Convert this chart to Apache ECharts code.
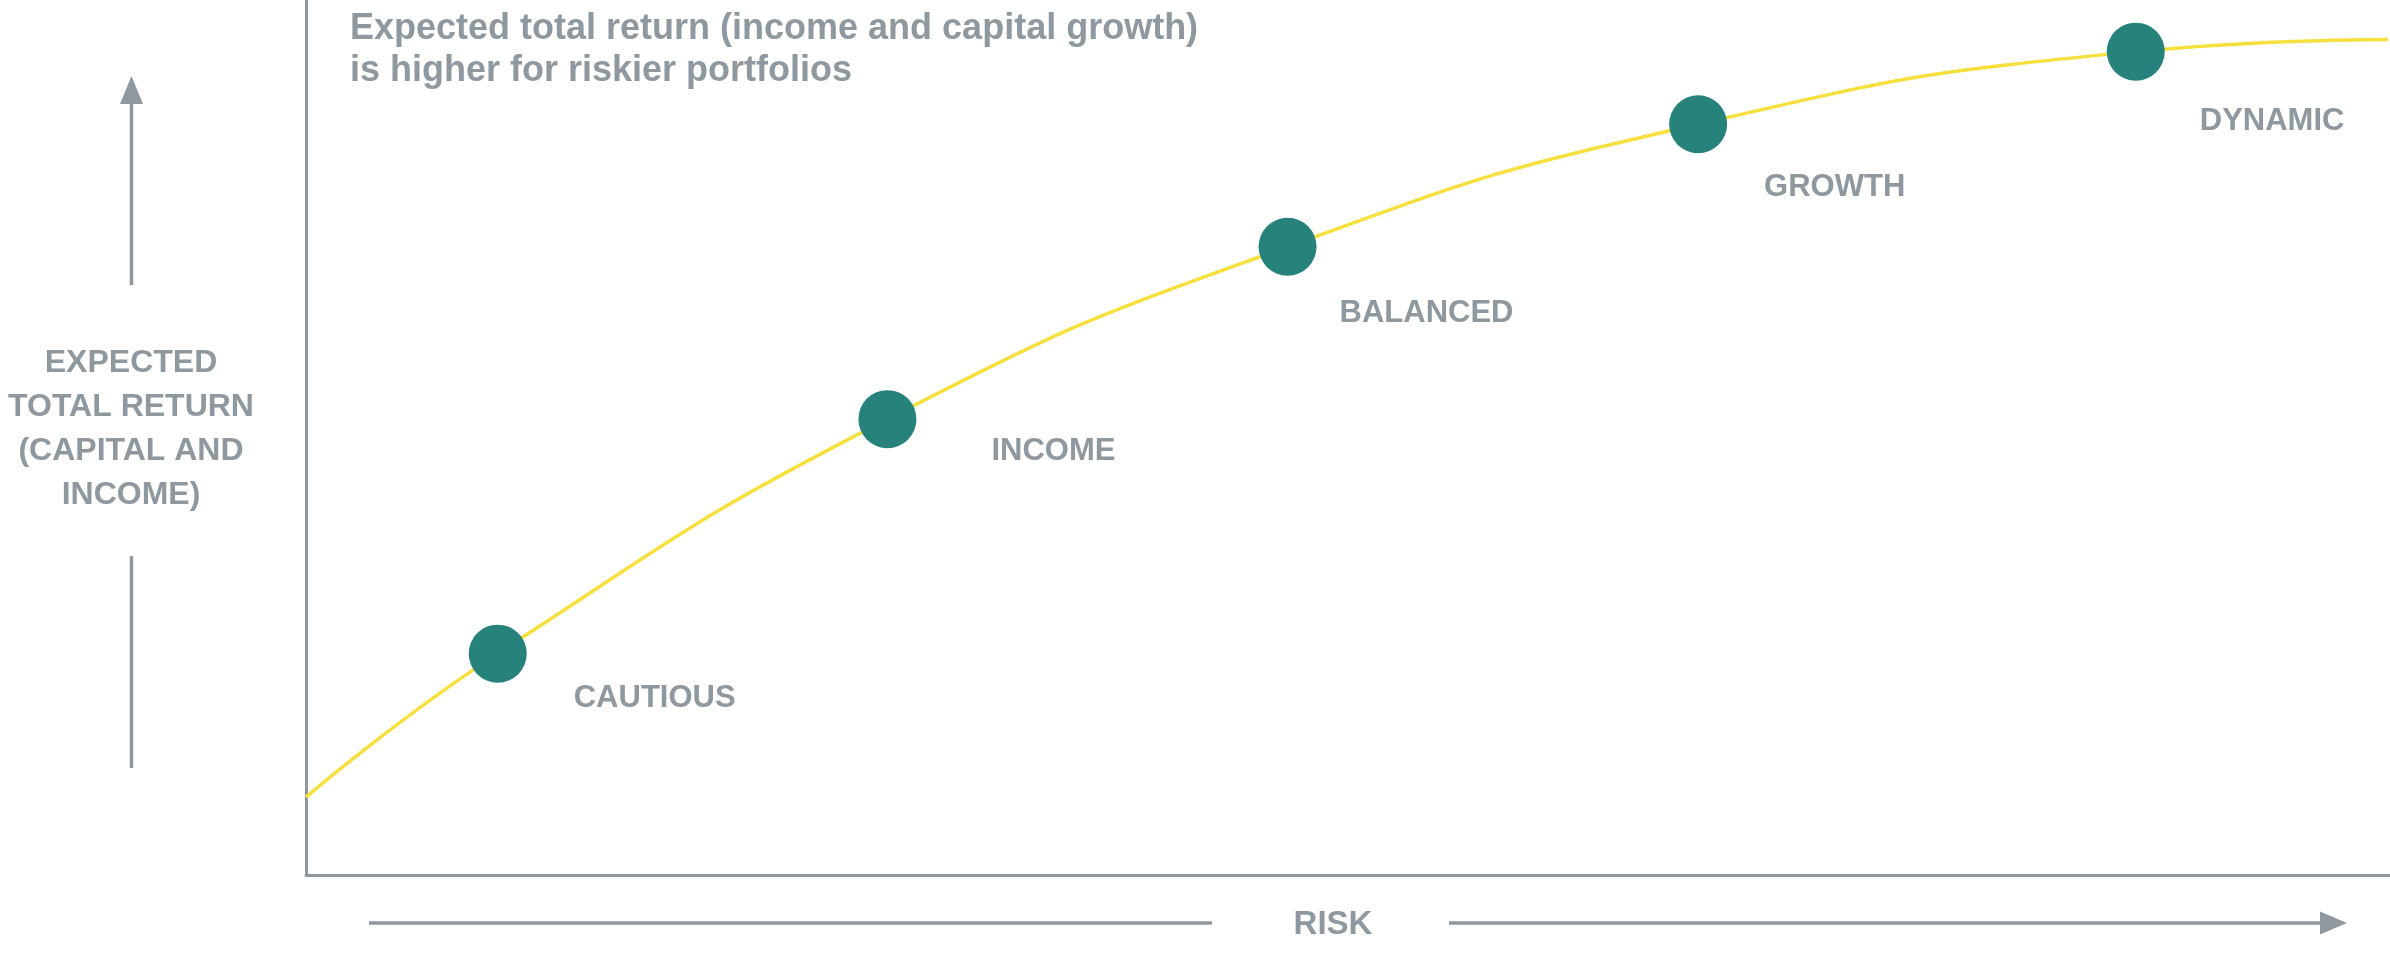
<!DOCTYPE html>
<html>
<head>
<meta charset="utf-8">
<style>
  html, body { margin: 0; padding: 0; background: #ffffff; }
  #chart { width: 2390px; height: 961px; }
</style>
<script src="https://cdn.jsdelivr.net/npm/echarts@6/dist/echarts.min.js"></script>
</head>
<body>
<div id="chart"></div>
<script>
// ---- Data ----
const titleLines = ['Expected total return (income and capital growth)', 'is higher for riskier portfolios'];
const yAxisTitle = ['EXPECTED', 'TOTAL RETURN', '(CAPITAL AND', 'INCOME)'];
const xAxisTitle = 'RISK';

const portfolios = ['CAUTIOUS', 'INCOME', 'BALANCED', 'GROWTH', 'DYNAMIC'];
const portfolioRisk = [9.2, 27.9, 47.1, 66.8, 87.8];
const portfolioReturn = [25.3, 52.1, 71.8, 85.8, 94.1];

// Risk/return trade-off curve
const curveRisk = [0, 9.2, 27.9, 47.1, 66.8, 87.8, 99.9];
const curveReturn = [8.9, 25.3, 52.1, 71.8, 85.8, 94.1, 95.5];

// ---- Styling / layout ----
const GRAY = '#8f989f';
const YELLOW = '#f5e03e';
const TEAL = '#27827c';
const FONT = '"Liberation Sans", Arial, Helvetica, sans-serif';
const DOT = 58;
// label offsets (px) from dot centre to the label's left / vertical middle
const labelOffsets = [[76, 45], [104, 32], [52, 67], [66, 63], [64, 70]];

const curveData = curveRisk.map((x, i) => [x, curveReturn[i]]);
const dotData = portfolios.map((name, i) => ({
  name: name,
  value: [portfolioRisk[i], portfolioReturn[i]],
  label: { position: [DOT / 2 + labelOffsets[i][0], DOT / 2 + labelOffsets[i][1]] }
}));

const chart = echarts.init(document.getElementById('chart'), null, { renderer: 'canvas' });

const option = {
  backgroundColor: '#ffffff',
  animation: false,
  title: {
    text: titleLines.join('\n'),
    left: 350,
    top: 8,
    padding: 0,
    textStyle: {
      color: GRAY,
      fontFamily: FONT,
      fontWeight: 'bold',
      fontSize: 36,
      lineHeight: 42
    }
  },
  grid: { left: 306, right: 0, top: 0, bottom: 86, containLabel: false },
  xAxis: {
    type: 'value', min: 0, max: 100,
    axisLine: { show: true, lineStyle: { color: GRAY, width: 3 } },
    axisTick: { show: false }, axisLabel: { show: false }, splitLine: { show: false }
  },
  yAxis: {
    type: 'value', min: 0, max: 100,
    axisLine: { show: true, lineStyle: { color: GRAY, width: 3 } },
    axisTick: { show: false }, axisLabel: { show: false }, splitLine: { show: false }
  },
  series: [
    {
      type: 'line',
      data: curveData,
      smooth: 0.5,
      showSymbol: false,
      lineStyle: { color: YELLOW, width: 3.5 },
      z: 2,
      silent: true
    },
    {
      type: 'scatter',
      data: dotData,
      symbol: 'circle',
      symbolSize: DOT,
      itemStyle: { color: TEAL, opacity: 1 },
      z: 3,
      label: {
        show: true,
        formatter: '{b}',
        align: 'left',
        verticalAlign: 'middle',
        color: GRAY,
        fontFamily: FONT,
        fontWeight: 'bold',
        fontSize: 31
      }
    }
  ],
  graphic: [
    // vertical "return" arrow (upper part with head)
    { type: 'line', shape: { x1: 131.5, y1: 285, x2: 131.5, y2: 98 }, style: { stroke: GRAY, lineWidth: 3.5 } },
    { type: 'polygon', shape: { points: [[131.5, 76], [120, 104], [143, 104]] }, style: { fill: GRAY } },
    // vertical arrow lower part
    { type: 'line', shape: { x1: 131.5, y1: 556, x2: 131.5, y2: 768 }, style: { stroke: GRAY, lineWidth: 3.5 } },
    // y-axis title
    {
      type: 'text', x: 131, y: 429,
      style: {
        text: yAxisTitle.join('\n'),
        fill: GRAY, font: 'bold 32px ' + FONT,
        align: 'center', verticalAlign: 'middle', lineHeight: 44
      }
    },
    // horizontal "risk" arrow
    { type: 'line', shape: { x1: 369, y1: 923, x2: 1212, y2: 923 }, style: { stroke: GRAY, lineWidth: 3.5 } },
    { type: 'line', shape: { x1: 1449, y1: 923, x2: 2325, y2: 923 }, style: { stroke: GRAY, lineWidth: 3.5 } },
    { type: 'polygon', shape: { points: [[2347, 923], [2320, 911.5], [2320, 934.5]] }, style: { fill: GRAY } },
    {
      type: 'text', x: 1333, y: 925,
      style: {
        text: xAxisTitle,
        fill: GRAY, font: 'bold 33px ' + FONT,
        align: 'center', verticalAlign: 'middle'
      }
    }
  ]
};

chart.setOption(option);
</script>
</body>
</html>
